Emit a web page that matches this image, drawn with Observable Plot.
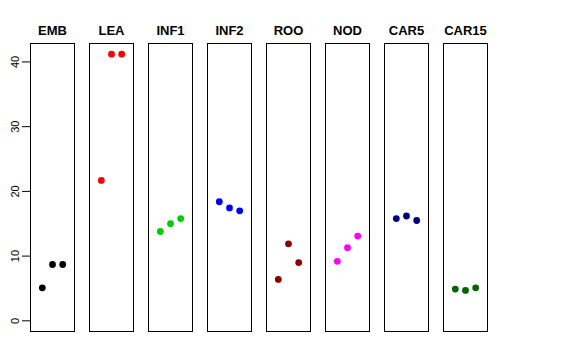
<!DOCTYPE html>
<html>
<head>
<meta charset="utf-8">
<script src="https://cdn.jsdelivr.net/npm/d3@7"></script>
<script src="https://cdn.jsdelivr.net/npm/@observablehq/plot@0.6"></script>
<style>
  html, body { margin: 0; padding: 0; background: #fff; }
</style>
</head>
<body>
<div id="chart"></div>
<script>
const categories = ["EMB", "LEA", "INF1", "INF2", "ROO", "NOD", "CAR5", "CAR15"];
const colors = ["#000000", "#FF0000", "#00CD00", "#0000FF", "#8B0000", "#FF00FF", "#000080", "#006400"];
const replicate = [1, 2, 3];
const EMB = [5.1, 8.7, 8.7];
const LEA = [21.7, 41.2, 41.2];
const INF1 = [13.8, 15.0, 15.8];
const INF2 = [18.4, 17.45, 17.0];
const ROO = [6.4, 11.9, 9.0];
const NOD = [9.2, 11.3, 13.1];
const CAR5 = [15.8, 16.2, 15.5];
const CAR15 = [4.9, 4.7, 5.1];
const yTicks = [0, 10, 20, 30, 40];

const series = [EMB, LEA, INF1, INF2, ROO, NOD, CAR5, CAR15];
const data = [];
categories.forEach((c, i) => {
  series[i].forEach((v, j) => data.push({tissue: c, rep: replicate[j], value: v}));
});

const chart = Plot.plot({
  width: 576,
  height: 360,
  marginLeft: 29,
  marginRight: 89,
  marginTop: 43,
  marginBottom: 29,
  style: {fontFamily: "'Liberation Sans', Arial, Helvetica, sans-serif", fontSize: "11px", color: "#000", background: "#fff"},
  fx: {domain: categories, paddingInner: 0.256, paddingOuter: 0, axis: null, label: null},
  x: {domain: [-0.16, 4.16], axis: null},
  y: {domain: [-1.65, 42.85], axis: null},
  color: {domain: categories, range: colors},
  marks: [
    Plot.frame({stroke: "#000", strokeWidth: 1}),
    Plot.text(categories, {fx: d => d, text: d => d, frameAnchor: "top", lineAnchor: "bottom", dy: -9, fontWeight: "bold", fontSize: 13}),
    Plot.axisY({ticks: yTicks, tickSize: 8, tickRotate: -90, tickPadding: 4, label: null, stroke: "#000"}),
    Plot.dot(data, {fx: "tissue", x: "rep", y: "value", fill: "tissue", r: 3.4, stroke: null})
  ]
});
document.getElementById("chart").appendChild(chart);
</script>
</body>
</html>
